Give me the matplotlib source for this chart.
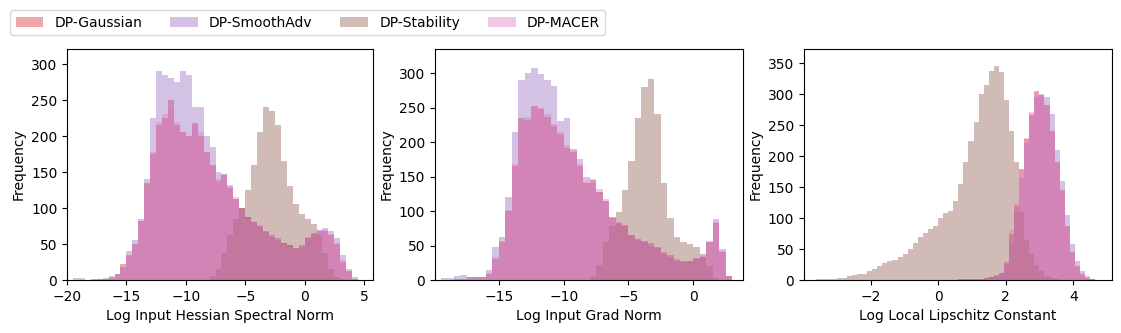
import numpy as np
import matplotlib.pyplot as plt

methods = ["DP-Gaussian", "DP-SmoothAdv", "DP-Stability", "DP-MACER"]
colors = ["tab:red", "tab:purple", "tab:brown", "tab:pink"]

# Log Input Hessian Spectral Norm, bins of width 0.5 starting at -19.5
hess_edges = np.arange(-19.5, 4.51, 0.5)
hess_gaussian = [0, 0, 0, 0, 1, 2, 3, 8, 22, 35, 50, 82, 135, 175, 215, 225, 250, 215, 205, 200,
                 218, 200, 178, 160, 138, 146, 128, 112, 100, 88, 80, 75, 67, 60, 55, 52, 48, 44, 46, 58,
                 64, 68, 68, 62, 50, 25, 12, 2]
hess_smoothadv = [3, 3, 0, 1, 2, 3, 5, 8, 18, 40, 55, 85, 140, 225, 290, 285, 280, 275, 290, 285,
                  240, 240, 200, 185, 150, 148, 130, 112, 98, 88, 80, 75, 68, 62, 58, 52, 48, 45, 48, 58,
                  65, 70, 72, 68, 58, 35, 15, 4]
hess_stability = [0, 0, 0, 0, 0, 0, 0, 0, 0, 0, 0, 0, 0, 0, 0, 0, 0, 0, 0, 0,
                  0, 0, 0, 5, 15, 38, 62, 85, 100, 125, 160, 205, 240, 235, 215, 165, 130, 105, 92, 85,
                  78, 62, 38, 15, 4, 1, 0, 0]
hess_macer = [0, 0, 0, 1, 1, 2, 4, 7, 18, 33, 48, 80, 130, 178, 220, 230, 240, 220, 205, 200,
              215, 205, 178, 158, 140, 148, 132, 115, 98, 85, 82, 76, 68, 62, 56, 50, 46, 45, 48, 60,
              65, 70, 70, 64, 52, 28, 12, 2]

# Log Input Grad Norm, bins of width 0.5 starting at -19.5
grad_edges = np.arange(-19.5, 3.01, 0.5)
grad_gaussian = [0, 0, 1, 2, 4, 4, 5, 9, 31, 55, 100, 165, 235, 232, 252, 248, 236, 224, 212, 192,
                 186, 165, 140, 145, 128, 115, 90, 82, 78, 65, 60, 55, 50, 47, 38, 34, 28, 26, 28, 31,
                 34, 55, 82, 40, 6]
grad_smoothadv = [3, 3, 6, 7, 4, 4, 4, 14, 48, 62, 120, 215, 290, 300, 308, 298, 290, 282, 230, 235,
                  190, 175, 150, 140, 128, 115, 92, 82, 80, 65, 58, 56, 54, 48, 40, 36, 30, 27, 28, 32,
                  34, 55, 88, 45, 6]
grad_stability = [0, 0, 0, 0, 0, 0, 0, 0, 0, 0, 0, 0, 0, 0, 0, 0, 0, 0, 0, 0,
                  0, 0, 0, 6, 22, 55, 78, 98, 130, 172, 235, 280, 292, 240, 140, 90, 62, 55, 52, 48,
                  38, 20, 3, 0, 0]
grad_macer = [0, 0, 1, 2, 3, 4, 5, 10, 33, 57, 102, 168, 228, 236, 248, 250, 240, 226, 214, 196,
              188, 168, 142, 147, 132, 118, 92, 84, 78, 66, 60, 56, 52, 48, 40, 35, 29, 27, 28, 32,
              35, 56, 84, 42, 6]

# Log Local Lipschitz Constant, bins of width 0.15 starting at -3.6
lip_edges = np.arange(-3.6, 4.66, 0.15)
lip_gaussian = [0] * 28 + [1, 1, 1, 2, 2, 3, 5, 7, 12, 28, 75, 120, 180, 228, 268, 305, 298, 282, 240, 190,
                           145, 88, 45, 22, 10, 4, 1]
lip_smoothadv = [0] * 28 + [1, 1, 1, 1, 2, 3, 5, 8, 12, 25, 60, 110, 165, 222, 265, 295, 298, 295, 268, 210,
                            160, 105, 58, 30, 14, 6, 2]
lip_stability = [2, 1, 2, 2, 3, 4, 6, 8, 9, 10, 14, 18, 22, 27, 30, 33, 38, 42, 50, 60,
                 70, 76, 82, 88, 100, 108, 112, 128, 155, 190, 225, 255, 300, 315, 338, 345, 335, 290, 240, 190,
                 110, 65, 42, 25, 14, 7, 4, 1, 0, 0, 0, 0, 0, 0, 0]
lip_macer = [0] * 28 + [1, 1, 1, 2, 2, 3, 4, 7, 12, 30, 80, 125, 178, 230, 272, 302, 300, 278, 235, 185,
                        140, 85, 42, 20, 9, 3, 1]

panels = [
    (hess_edges, [hess_gaussian, hess_smoothadv, hess_stability, hess_macer],
     "Log Input Hessian Spectral Norm", (-20.0, 5.76), 321, [0, 50, 100, 150, 200, 250, 300]),
    (grad_edges, [grad_gaussian, grad_smoothadv, grad_stability, grad_macer],
     "Log Input Grad Norm", (-19.94, 3.84), 335, [0, 50, 100, 150, 200, 250, 300]),
    (lip_edges, [lip_gaussian, lip_smoothadv, lip_stability, lip_macer],
     "Log Local Lipschitz Constant", (-3.97, 5.15), 373, [0, 50, 100, 150, 200, 250, 300, 350]),
]

fig = plt.figure(figsize=(11.21, 3.33), dpi=100)
lefts = [0.0598, 0.3880, 0.7172]
widths = [0.2730, 0.2748, 0.2748]

for left, width, (edges, series, xlabel, xlim, ytop, yticks) in zip(lefts, widths, panels):
    ax = fig.add_axes([left, 0.159, width, 0.694])
    centers = (edges[:-1] + edges[1:]) / 2
    for counts, name, c in zip(series, methods, colors):
        ax.hist(centers, bins=edges, weights=counts, color=c, alpha=0.4, label=name)
    ax.set_xlim(*xlim)
    ax.set_ylim(0, ytop)
    ax.set_yticks(yticks)
    ax.set_xlabel(xlabel)
    ax.set_ylabel("Frequency")

handles, labels = fig.axes[0].get_legend_handles_labels()
fig.legend(handles, labels, loc="upper left", bbox_to_anchor=(0.0089, 0.970),
           borderaxespad=0, ncol=4)

plt.savefig("out.png", dpi=100)
